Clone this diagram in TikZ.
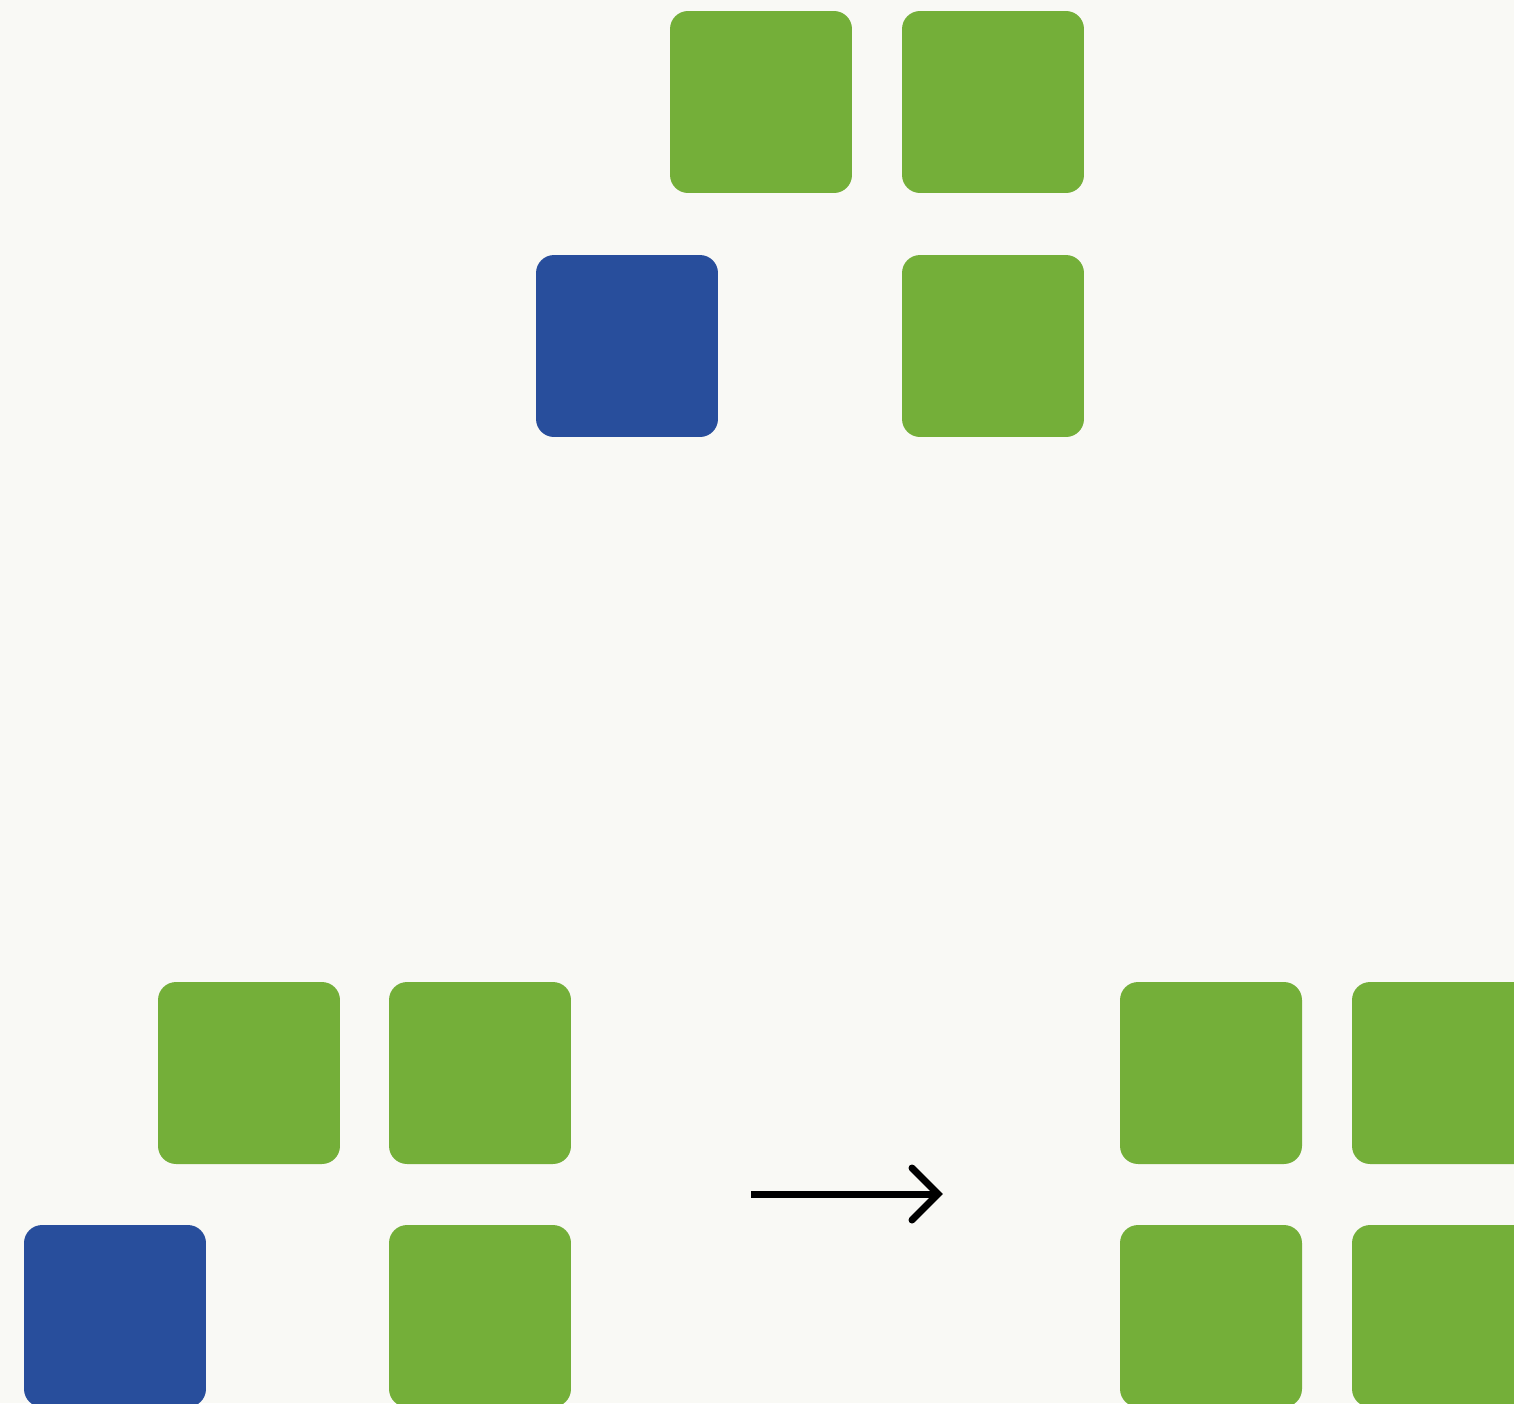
\documentclass[tikz,border=0pt]{standalone}
\begin{document}
\begin{tikzpicture}[x=0.02cm,y=-0.02cm,
  tile/.style={draw=none,minimum size=3.64cm,inner sep=0pt,rounded corners=0.36cm},
  gtile/.style={tile,fill=tgreen},
  btile/.style={tile,fill=tblue},
  arrowline/.style={line width=0.14cm}]
\definecolor{tgreen}{HTML}{74AF39}
\definecolor{tblue}{HTML}{284E9C}
\definecolor{tbg}{HTML}{F9F9F5}
\fill[tbg] (0,0) rectangle (1514,1403);
\useasboundingbox (0,0) rectangle (1514,1403);
\clip (0,0) rectangle (1514,1403);
% top group
\node[gtile] (t1) at (761,102) {};
\node[gtile] (t2) at (993,102) {};
\node[btile] (t3) at (627,346) {};
\node[gtile] (t4) at (993,346) {};
% bottom left group
\node[gtile] (l1) at (249,1073) {};
\node[gtile] (l2) at (480,1073) {};
\node[btile] (l3) at (115,1316) {};
\node[gtile] (l4) at (480,1316) {};
% bottom right group
\node[gtile] (r1) at (1211,1073) {};
\node[gtile] (r2) at (1443,1073) {};
\node[gtile] (r3) at (1211,1316) {};
\node[gtile] (r4) at (1443,1316) {};
% arrow
\coordinate (as) at (751,1194);
\coordinate (ae) at (936,1194);
\coordinate (au) at (912,1168);
\coordinate (ad) at (912,1220);
\coordinate (tip) at (938,1194);
\draw[arrowline] (as) -- (ae);
\draw[arrowline,line cap=round,line join=miter] (au) -- (tip) -- (ad);
\end{tikzpicture}
\end{document}
